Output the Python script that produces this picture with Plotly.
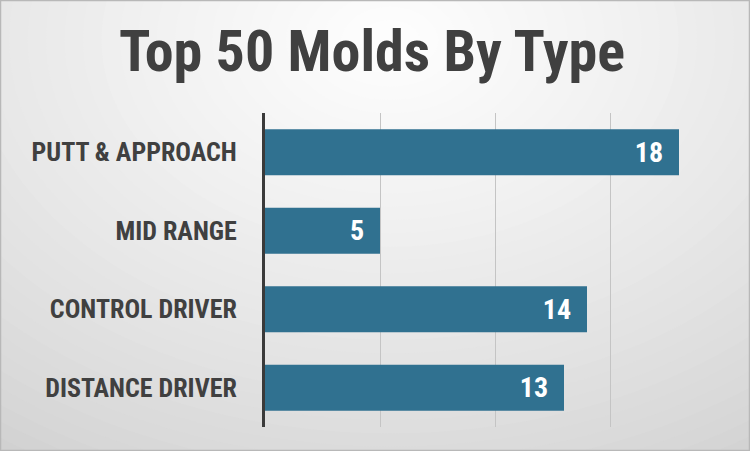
import plotly.graph_objects as go

categories = ["PUTT & APPROACH", "MID RANGE", "CONTROL DRIVER", "DISTANCE DRIVER"]
values = [18, 5, 14, 13]
title_text = "Top 50 Molds By Type"

FONT = "Roboto Condensed, Open Sans Condensed, DejaVu Sans Condensed, sans-serif"
W, H = 750, 451
ML, MR, MT, MB = 265, 25, 113, 24
PW, PH = W - ML - MR, H - MT - MB

def px2paper_x(px):
    return (px - ML) / PW

def px2paper_y(py):
    return (H - MB - py) / PH

# radial background gradient (decorative)
shapes = []
N = 40
cx, cy = 390, 40
for i in range(N):
    t = i / (N - 1)
    rx = 720 * (1 - t) + 30
    ry = 520 * (1 - t) + 20
    g = int(round(202 + (253 - 202) * (t ** 0.75)))
    col = f"rgb({g},{g},{g})"
    shapes.append(dict(type="circle", xref="paper", yref="paper",
                       x0=px2paper_x(cx - rx), x1=px2paper_x(cx + rx),
                       y0=px2paper_y(cy + ry), y1=px2paper_y(cy - ry),
                       fillcolor=col, line=dict(width=0), layer="below"))
shapes.append(dict(type="rect", xref="paper", yref="paper",
                   x0=px2paper_x(0.5), x1=px2paper_x(W - 0.5),
                   y0=px2paper_y(H - 0.5), y1=px2paper_y(0.5),
                   line=dict(color="#b8b8b8", width=1.5), layer="above"))

fig = go.Figure(go.Bar(
    x=values, y=categories, orientation="h",
    marker=dict(color="#307190", line=dict(width=0)),
    width=0.585,
    text=[str(v) for v in values], textposition="inside",
    insidetextanchor="end",
    textfont=dict(color="white", size=28, family=FONT),
    texttemplate="<b>%{text}</b>  ",
    hoverinfo="skip",
))

fig.update_layout(
    width=W, height=H,
    margin=dict(l=ML, r=MR, t=MT, b=MB),
    paper_bgcolor="#d8d8d8",
    plot_bgcolor="rgba(0,0,0,0)",
    shapes=shapes,
    showlegend=False,
    title=dict(text="<b>" + title_text + "</b>", x=(372 - ML) / PW, xref="paper", xanchor="center",
               y=1 - 51 / H, yref="container", yanchor="middle",
               font=dict(size=58, color="#404040", family=FONT)),
    xaxis=dict(range=[0, 20], dtick=5, showgrid=True, gridcolor="#c4c4c4", gridwidth=1.2,
               showticklabels=False, zeroline=False, showline=False, ticks=""),
    yaxis=dict(categoryorder="array", categoryarray=categories[::-1],
               showline=True, linecolor="#3a3a3a", linewidth=3, ticks="",
               ticklabelstandoff=20,
               tickfont=dict(size=26, color="#404040", family=FONT)),
    font=dict(family=FONT),
)
fig.update_yaxes(tickprefix="<b>", ticksuffix="</b>")

fig.write_html("out.html", config={"displayModeBar": False},
               post_script="document.body.style.margin='0';document.body.style.overflow='hidden';")
